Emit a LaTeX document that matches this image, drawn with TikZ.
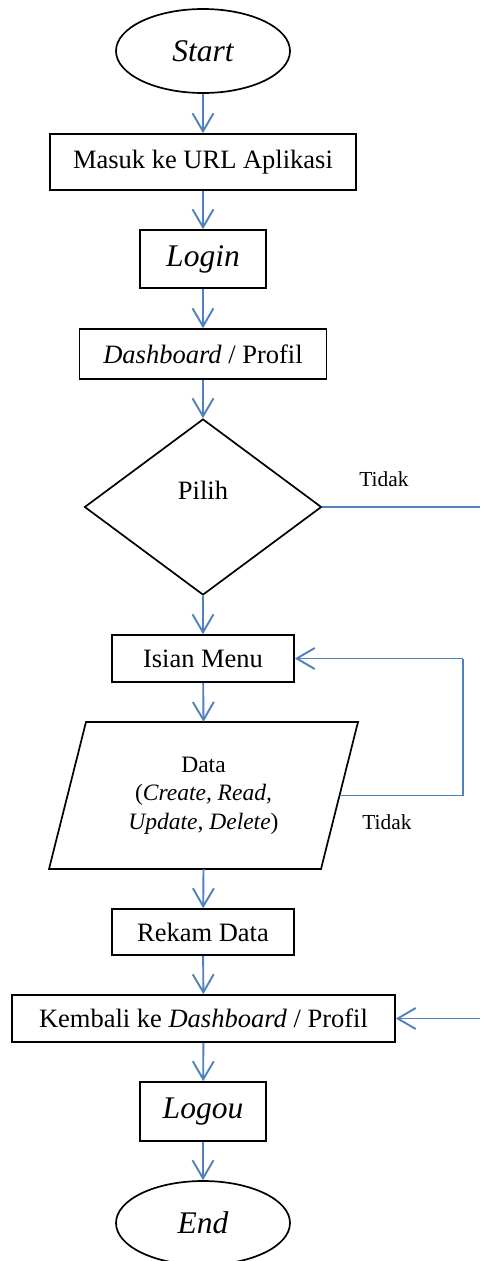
\documentclass[tikz,border=0pt]{standalone}
\usepackage{fontspec}
\setmainfont{Liberation Serif}
\usetikzlibrary{shapes.geometric,arrows.meta}
\definecolor{flowblue}{RGB}{79,129,189}
\begin{document}
\begin{tikzpicture}[x=1pt,y=-1pt,
  box/.style={draw=black,line width=1.7pt,rectangle,inner sep=0pt,align=center,
    font=\fontsize{26.5}{30}\selectfont},
  term/.style={draw=black,line width=1.7pt,ellipse,inner sep=0pt,
    minimum width=174pt,minimum height=84pt,font=\fontsize{31.5}{34}\selectfont\itshape},
  bigit/.style={font=\fontsize{31.5}{34}\selectfont\itshape},
  flow/.style={draw=flowblue,line width=1.9pt,
    -{Straight Barb[length=18pt,width=21pt,line width=1.9pt]}},
  link/.style={draw=flowblue,line width=1.9pt},
  note/.style={font=\fontsize{21.4}{24}\selectfont,inner sep=0pt}]
\useasboundingbox (0,0) rectangle (480,1261);

% shapes
\node[term] (start) at (203,51) {Start};
\node[box,minimum width=306pt,minimum height=56pt] (url) at (203,162) {Masuk ke URL Aplikasi};
\node[box,bigit,minimum width=126pt,minimum height=58pt] (login) at (203,259) {Login};
\node[box,minimum width=247pt,minimum height=50pt] (dash) at (203,354) {\textit{Dashboard} / Profil};
\node[draw=black,line width=1.7pt,diamond,inner sep=0pt,minimum width=237pt,minimum height=176pt,
  label={[font=\fontsize{26.5}{30}\selectfont,yshift=17pt]center:Pilih}] (pilih) at (203,507) {};
\node[box,minimum width=182pt,minimum height=47pt] (menu) at (203,658.5) {Isian Menu};

% data input: a parallelogram leaning right, with its text node inside
\node[inner sep=0pt,minimum width=235pt,minimum height=147pt,align=center,
  font=\fontsize{23.5}{28.5}\selectfont] (data) at (203.5,795.5)
  {Data\\(\textit{Create, Read,}\\\textit{Update, Delete})};
\coordinate (dTL) at (86,722);
\coordinate (dTR) at (358,722);
\coordinate (dBR) at (321,869);
\coordinate (dBL) at (49,869);
\coordinate (dR) at (339.5,795.5);
\draw[black,line width=1.7pt,line join=miter] (dTL) -- (dTR) -- (dBR) -- (dBL) -- cycle;

\node[box,minimum width=182pt,minimum height=46pt] (rekam) at (203,932) {Rekam Data};
\node[box,minimum width=383pt,minimum height=47pt] (kembali) at (203.5,1018.5)
  {Kembali ke \textit{Dashboard} / Profil};
\node[box,bigit,minimum width=126pt,minimum height=59pt] (logout) at (203,1111.5) {Logou};
\node[term] (end) at (203,1223) {End};

% branch labels
\node[note] (tidak1) at (384,479) {Tidak};
\node[note] (tidak2) at (387,822) {Tidak};

% main flow
\draw[flow] (start) -- (url);
\draw[flow] (url) -- (login);
\draw[flow] (login) -- (dash);
\draw[flow] (dash) -- (pilih);
\draw[flow] (pilih) -- (menu);
\draw[flow] (menu) -- (data.north);
\draw[flow] (data.south) -- (rekam);
\draw[flow] (rekam) -- (kembali);
\draw[flow] (kembali) -- (logout);
\draw[flow] (logout) -- (end);

% loop back to the menu
\coordinate (loopB) at (462.7,795.5);
\coordinate (loopT) at (462.7,658.5);
\draw[link] (dR) -- (loopB) -- (loopT);
\draw[flow] (loopT) -- (menu.east);

% "Tidak" branch of the choice, running off to the right and back
\coordinate (outA) at (480,507);
\coordinate (outB) at (480,1018.5);
\draw[link] (pilih.east) -- (outA);
\draw[flow] (outB) -- (kembali.east);
\end{tikzpicture}
\end{document}
